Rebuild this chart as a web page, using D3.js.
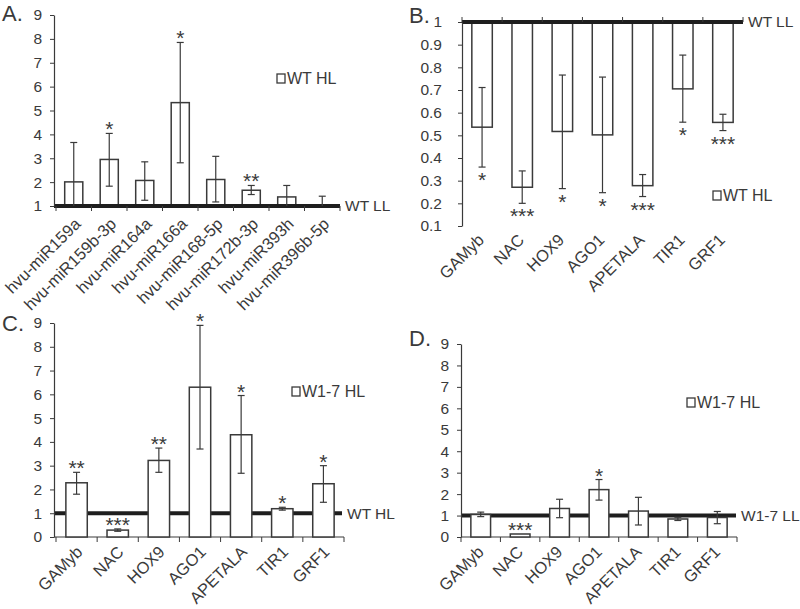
<!DOCTYPE html>
<html>
<head>
<meta charset="utf-8">
<script src="https://cdn.jsdelivr.net/npm/d3@7"></script>
<style>
  body { margin: 0; background: #fff; }
  text { font-family: "Liberation Sans", Arial, sans-serif; fill: #3a3a3a; }
</style>
</head>
<body>
<script>
// ---- data ----
var miRNAs = ['hvu-miR159a', 'hvu-miR159b-3p', 'hvu-miR164a', 'hvu-miR166a',
              'hvu-miR168-5p', 'hvu-miR172b-3p', 'hvu-miR393h', 'hvu-miR396b-5p'];
var genes = ['GAMyb', 'NAC', 'HOX9', 'AGO1', 'APETALA', 'TIR1', 'GRF1'];

// A. WT HL vs WT LL (miRNAs)
var aValues = [2.01, 2.95, 2.07, 5.33, 2.11, 1.66, 1.38, 1.02];
var aLow    = [0.36, 1.83, 1.24, 2.81, 1.17, 1.48, 0.90, 0.62];
var aHigh   = [3.66, 4.04, 2.85, 7.85, 3.08, 1.86, 1.86, 1.41];
var aStars  = ['', '*', '', '*', '', '**', '', ''];

// B. WT HL vs WT LL (targets)
var bValues = [0.536, 0.271, 0.517, 0.502, 0.278, 0.705, 0.557];
var bLow    = [0.360, 0.200, 0.265, 0.247, 0.230, 0.558, 0.521];
var bHigh   = [0.711, 0.343, 0.766, 0.757, 0.327, 0.854, 0.593];
var bStars  = ['*', '***', '*', '*', '***', '*', '***'];

// C. W1-7 HL vs WT HL
var cValues = [2.28, 0.29, 3.22, 6.30, 4.30, 1.19, 2.24];
var cLow    = [1.80, 0.24, 2.72, 3.70, 2.68, 1.13, 1.46];
var cHigh   = [2.72, 0.34, 3.74, 8.90, 5.95, 1.25, 3.00];
var cStars  = ['**', '***', '**', '*', '*', '*', '*'];

// D. W1-7 HL vs W1-7 LL
var dValues = [1.05, 0.14, 1.33, 2.21, 1.21, 0.84, 0.91];
var dLow    = [0.95, 0.14, 0.90, 1.72, 0.56, 0.77, 0.62];
var dHigh   = [1.16, 0.14, 1.76, 2.68, 1.85, 0.92, 1.19];
var dStars  = ['', '***', '', '*', '', '', ''];

var aTicks  = [1, 2, 3, 4, 5, 6, 7, 8, 9];
var bTicks  = [0.1, 0.2, 0.3, 0.4, 0.5, 0.6, 0.7, 0.8, 0.9, 1];
var cdTicks = [0, 1, 2, 3, 4, 5, 6, 7, 8, 9];

var lineColor = '#3a3a3a';

var svg = d3.select('body')
    .append('svg')
    .attr('width', 800)
    .attr('height', 609);

// panel A labels run under panel C in the original, cut them there
svg.append('defs').append('clipPath')
    .attr('id', 'clipTop')
    .append('rect')
    .attr('x', 0).attr('y', 0).attr('width', 400).attr('height', 311);

function drawPanel(p) {
    var g = svg.append('g');
    if (p.clip) g.attr('clip-path', 'url(#' + p.clip + ')');

    var x = d3.scaleBand()
        .domain(p.cats)
        .range(p.xRange)
        .paddingInner(p.pad)
        .paddingOuter(p.pad / 2);

    var y = d3.scaleLinear()
        .domain(p.yDomain)
        .range(p.yRange);

    var lo = Math.min(p.yDomain[0], p.yDomain[1]);
    var hi = Math.max(p.yDomain[0], p.yDomain[1]);
    function yc(v) { return y(Math.max(lo, Math.min(hi, v))); }

    // category boundaries, where the x ticks go
    var bounds = d3.range(p.cats.length + 1).map(function(i) {
        return p.xRange[0] + i * x.step();
    });

    // plain x axis at bottom (C, D)
    if (p.baseAxis) {
        g.append('line')
            .attr('x1', p.axisX).attr('x2', p.xRange[1])
            .attr('y1', y(0)).attr('y2', y(0))
            .style('stroke', lineColor).style('stroke-width', 1.2);
        g.selectAll('.btick')
            .data(bounds)
            .enter()
            .append('line')
            .attr('x1', function(d) { return d; })
            .attr('x2', function(d) { return d; })
            .attr('y1', y(0)).attr('y2', y(0) + 5)
            .style('stroke', lineColor);
    }

    function refLine() {
        var ry = y(p.refValue);
        g.append('line')
            .attr('x1', p.axisX).attr('x2', p.refEnd)
            .attr('y1', ry).attr('y2', ry)
            .style('stroke', '#1e1e1e')
            .style('stroke-width', 4);
        if (p.refTicks) {
            g.selectAll('.rtick')
                .data(bounds)
                .enter()
                .append('line')
                .attr('x1', function(d) { return d; })
                .attr('x2', function(d) { return d; })
                .attr('y1', ry)
                .attr('y2', ry + p.refTicks)
                .style('stroke', lineColor);
        }
        svg.append('text')
            .attr('x', p.refEnd + 5)
            .attr('y', ry)
            .attr('dy', '0.35em')
            .style('font-size', '15.5px')
            .text(p.refLabel);
    }

    if (!p.refOnTop) refLine();

    // bars
    g.selectAll('.bar')
        .data(p.values)
        .enter()
        .append('rect')
        .attr('x', function(d, i) { return x(p.cats[i]); })
        .attr('y', function(d) { return Math.min(y(d), y(p.base)); })
        .attr('width', x.bandwidth())
        .attr('height', function(d) { return Math.abs(y(d) - y(p.base)); })
        .style('fill', '#fff')
        .style('stroke', lineColor)
        .style('stroke-width', 1.5);

    if (p.refOnTop) refLine();

    // error bars
    p.values.forEach(function(v, i) {
        var cx = x(p.cats[i]) + x.bandwidth() / 2;
        var l = p.low[i], h = p.high[i];
        if (h - l < 0.001) return;
        g.append('line')
            .attr('x1', cx).attr('x2', cx)
            .attr('y1', yc(l)).attr('y2', yc(h))
            .style('stroke', lineColor).style('stroke-width', 1.2);
        [l, h].forEach(function(e) {
            if (e < lo || e > hi) return;
            g.append('line')
                .attr('x1', cx - 3.5).attr('x2', cx + 3.5)
                .attr('y1', y(e)).attr('y2', y(e))
                .style('stroke', lineColor).style('stroke-width', 1.2);
        });
    });

    // significance stars
    g.selectAll('.star')
        .data(p.stars)
        .enter()
        .append('text')
        .attr('x', function(d, i) { return x(p.cats[i]) + x.bandwidth() / 2; })
        .attr('y', function(d, i) {
            if (p.starsBelow) return y(p.low[i]) + 20;
            return Math.min(y(p.high[i]), y(p.values[i])) + 3;
        })
        .attr('text-anchor', 'middle')
        .style('font-size', '21px')
        .text(function(d) { return d; });

    // y axis
    var yAxis = d3.axisLeft(y)
        .tickValues(p.ticks)
        .tickSize(4)
        .tickSizeOuter(0)
        .tickPadding(p.tickPad)
        .tickFormat(function(d) { return String(+d.toFixed(1)); });

    var ya = g.append('g')
        .attr('transform', 'translate(' + p.axisX + ',0)')
        .call(yAxis);
    ya.select('.domain').style('stroke', lineColor).style('stroke-width', 1.2);
    ya.selectAll('.tick line').style('stroke', lineColor);
    ya.selectAll('.tick text')
        .style('font-size', '15.5px')
        .style('font-family', '"Liberation Sans", Arial, sans-serif')
        .style('fill', '#3a3a3a');

    // category labels, rotated like the spreadsheet original
    g.selectAll('.cat')
        .data(p.cats)
        .enter()
        .append('text')
        .attr('transform', function(d) {
            var cx = x(d) + x.bandwidth() / 2;
            return 'translate(' + (cx + p.labelDx) + ',' + p.labelY + ') rotate(-45)';
        })
        .attr('text-anchor', 'end')
        .style('font-size', p.labelSize + 'px')
        .text(function(d) { return d; });

    // legend
    g.append('rect')
        .attr('x', p.legend[0]).attr('y', p.legend[1])
        .attr('width', 8).attr('height', 9)
        .style('fill', '#fff')
        .style('stroke', lineColor)
        .style('stroke-width', 1.3);
    g.append('text')
        .attr('x', p.legend[0] + 10)
        .attr('y', p.legend[1] + 4.5)
        .attr('dy', '0.35em')
        .style('font-size', '16px')
        .text(p.legendLabel);

    // panel letter
    svg.append('text')
        .attr('x', p.title[0]).attr('y', p.title[1])
        .style('font-size', '22px')
        .text(p.letter);
}

drawPanel({
    letter: 'A.', title: [2, 21], clip: 'clipTop',
    cats: miRNAs, values: aValues, low: aLow, high: aHigh, stars: aStars,
    xRange: [56, 340], pad: 0.49, axisX: 54,
    yDomain: [1, 9], yRange: [206, 15], ticks: aTicks, tickPad: 8,
    base: 1, refValue: 1, refEnd: 340, refTicks: 5, refLabel: 'WT LL', refOnTop: true,
    labelDx: 8, labelY: 225, labelSize: 16.5,
    legend: [277, 74], legendLabel: 'WT HL'
});

drawPanel({
    letter: 'B.', title: [409, 23],
    cats: genes, values: bValues, low: bLow, high: bHigh, stars: bStars, starsBelow: true,
    xRange: [462, 743], pad: 0.49, axisX: 462,
    yDomain: [0.1, 1], yRange: [226, 22], ticks: bTicks, tickPad: 16,
    base: 1, refValue: 1, refEnd: 743, refTicks: -5, refLabel: 'WT LL', refOnTop: true,
    labelDx: 3, labelY: 241, labelSize: 16.5,
    legend: [713, 191], legendLabel: 'WT HL'
});

drawPanel({
    letter: 'C.', title: [2, 331],
    cats: genes, values: cValues, low: cLow, high: cHigh, stars: cStars,
    xRange: [56, 344], pad: 0.48, axisX: 54, baseAxis: true,
    yDomain: [0, 9], yRange: [537, 323], ticks: cdTicks, tickPad: 8,
    base: 0, refValue: 1, refEnd: 342, refLabel: 'WT HL', refOnTop: false,
    labelDx: 7, labelY: 553, labelSize: 16.5,
    legend: [292, 387], legendLabel: 'W1-7 HL'
});

drawPanel({
    letter: 'D.', title: [409, 346],
    cats: genes, values: dValues, low: dLow, high: dHigh, stars: dStars,
    xRange: [461, 737], pad: 0.5, axisX: 461, baseAxis: true,
    yDomain: [0, 9], yRange: [537, 344], ticks: cdTicks, tickPad: 8,
    base: 0, refValue: 1, refEnd: 736, refLabel: 'W1-7 LL', refOnTop: false,
    labelDx: 4, labelY: 553, labelSize: 16.5,
    legend: [687, 398], legendLabel: 'W1-7 HL'
});
</script>
</body>
</html>
